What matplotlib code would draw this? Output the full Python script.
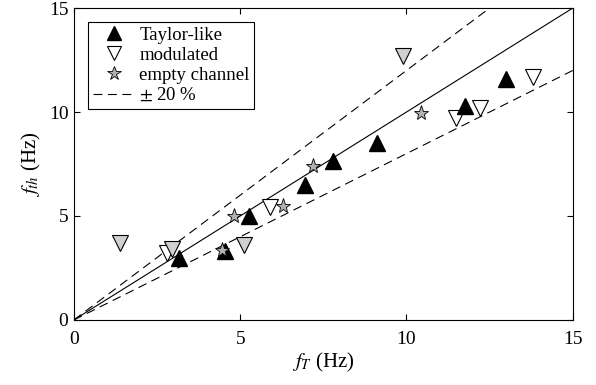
import matplotlib
matplotlib.use('Agg')
import matplotlib.pyplot as plt
import numpy as np

plt.rcParams['font.family'] = ['Liberation Serif', 'DejaVu Serif']
plt.rcParams['mathtext.fontset'] = 'stix'

# data (f_T, f_th) in Hz
taylor_x = [3.15, 4.55, 5.25, 6.95, 7.8, 9.1, 11.75, 13.0]
taylor_y = [3.0, 3.3, 5.0, 6.5, 7.65, 8.5, 10.3, 11.6]

mod_x = [2.8, 5.9, 11.5, 12.2, 13.8]
mod_y = [3.2, 5.45, 9.7, 10.2, 11.7]

mod_grey_x = [1.4, 2.95, 5.1, 9.9]
mod_grey_y = [3.7, 3.4, 3.6, 12.7]

empty_x = [4.45, 4.8, 6.3, 7.2, 10.45]
empty_y = [3.35, 5.0, 5.5, 7.4, 9.95]

ratios = [1.0, 1.2, 0.8]

fig = plt.figure(figsize=(5.96, 3.85), dpi=100)
ax = fig.add_axes([0.124, 0.169, 0.837, 0.81])

xx = np.array([0, 15])
ax.plot(xx, ratios[0] * xx, '-', color='k', lw=0.8)
ax.plot(xx, ratios[1] * xx, '--', color='k', lw=0.8, dashes=(8, 5))
ax.plot(xx, ratios[2] * xx, '--', color='k', lw=0.8, dashes=(8, 5), label='$\\pm$ 20 %')

ax.plot(mod_x, mod_y, 'v', ms=11, mfc='white', mec='k', mew=0.8, ls='none', label='modulated')
ax.plot(mod_grey_x, mod_grey_y, 'v', ms=11, mfc='#d0d0d0', mec='k', mew=0.8, ls='none')
ax.plot(taylor_x, taylor_y, '^', ms=11, mfc='k', mec='k', ls='none', label='Taylor-like')
ax.plot(empty_x, empty_y, '*', ms=11, mfc='#b0b0b0', mec='k', mew=0.6, ls='none', label='empty channel')

ax.set_xlim(0, 15)
ax.set_ylim(0, 15)
ax.set_xticks([0, 5, 10, 15])
ax.set_yticks([0, 5, 10, 15])
ax.tick_params(direction='in', top=True, right=True, labelsize=14, length=4)
ax.tick_params(axis='x', pad=8)
ax.tick_params(axis='y', pad=4)
for s in ax.spines.values():
    s.set_linewidth(0.8)

ax.set_xlabel('$f_T$ (Hz)', fontsize=15, labelpad=2)
ax.set_ylabel('$f_{th}$ (Hz)', fontsize=15, labelpad=4)

h, l = ax.get_legend_handles_labels()
order = [l.index('Taylor-like'), l.index('modulated'), l.index('empty channel'), l.index('$\\pm$ 20 %')]
leg = ax.legend([h[i] for i in order], [l[i] for i in order], loc='upper left',
                bbox_to_anchor=(0.028, 0.955), fontsize=13.5, fancybox=False,
                edgecolor='k', framealpha=1, borderaxespad=0, handlelength=2.3,
                handletextpad=0.2, labelspacing=0.15, borderpad=0.25, markerscale=0.9)
leg.get_frame().set_linewidth(0.8)

fig.savefig('out.png', dpi=100)
